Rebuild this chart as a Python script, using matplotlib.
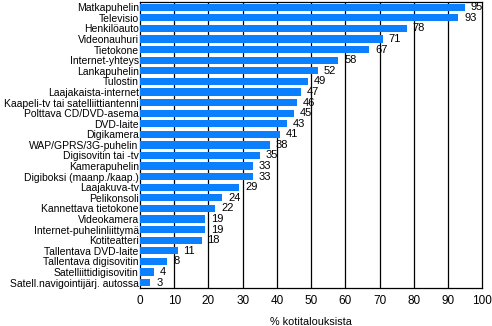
import matplotlib
matplotlib.use("Agg")
import matplotlib.pyplot as plt

categories = [
    "Matkapuhelin", "Televisio", "Henkilöauto", "Videonauhuri", "Tietokone",
    "Internet-yhteys", "Lankapuhelin", "Tulostin", "Laajakaista-internet",
    "Kaapeli-tv tai satelliittiantenni", "Polttava CD/DVD-asema", "DVD-laite",
    "Digikamera", "WAP/GPRS/3G-puhelin", "Digisovitin tai -tv", "Kamerapuhelin",
    "Digiboksi (maanp./kaap.)", "Laajakuva-tv", "Pelikonsoli",
    "Kannettava tietokone", "Videokamera", "Internet-puhelinliittymä",
    "Kotiteatteri", "Tallentava DVD-laite", "Tallentava digisovitin",
    "Satelliittidigisovitin", "Satell.navigointijärj. autossa",
]
values = [95, 93, 78, 71, 67, 58, 52, 49, 47, 46, 45, 43, 41, 38, 35, 33, 33,
          29, 24, 22, 19, 19, 18, 11, 8, 4, 3]
xticks = list(range(0, 101, 10))
xlabel = "% kotitalouksista"

plt.rcParams["font.family"] = ["Liberation Sans", "DejaVu Sans"]

fig = plt.figure(figsize=(4.92, 3.26), dpi=100)
ax = fig.add_axes([0.2846, 0.117, 0.6954, 0.877])

y = list(range(len(categories)))
ax.barh(y, values, height=0.68, color="#0a80ff", zorder=3)
for yi, v in zip(y, values):
    ax.text(v + 1.7, yi, str(v), va="center", ha="left", fontsize=8,
            color="black", zorder=4)

ax.set_xlim(0, 100)
ax.set_ylim(len(categories) - 0.5, -0.5)
ax.set_yticks(y)
ax.set_yticklabels(categories, fontsize=7.5)
ax.set_xticks(xticks)
ax.set_xticklabels([str(t) for t in xticks], fontsize=8.5)
ax.tick_params(axis="x", length=0, pad=5.5)
ax.tick_params(axis="y", length=0, pad=1)
for t in xticks[1:-1]:
    ax.axvline(t, color="black", linewidth=0.9, zorder=1)
for s in ax.spines.values():
    s.set_color("black")
    s.set_linewidth(0.9)
ax.set_xlabel(xlabel, fontsize=7.8, labelpad=7)

fig.savefig("out.png", dpi=100)
